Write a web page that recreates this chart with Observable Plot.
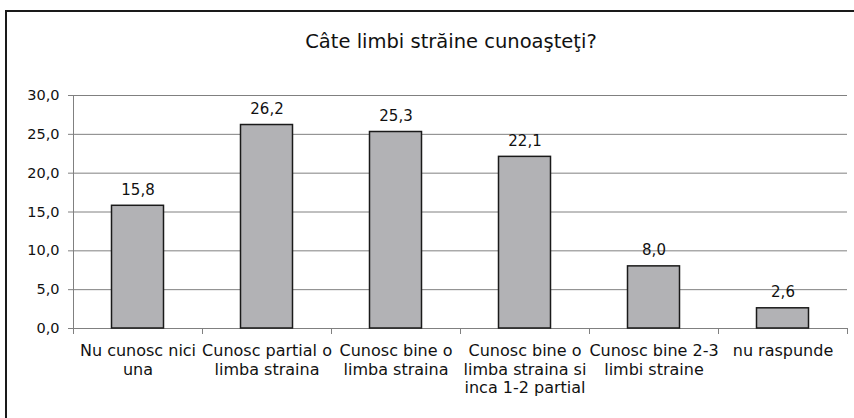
<!DOCTYPE html>
<html>
<head>
<meta charset="utf-8">
<script src="https://cdn.jsdelivr.net/npm/d3@7"></script>
<script src="https://cdn.jsdelivr.net/npm/@observablehq/plot@0.6"></script>
<style>
  html, body { margin: 0; padding: 0; background: #fff; overflow: hidden; }
  #wrap { position: relative; width: 854px; height: 418px; font-family: "DejaVu Sans", sans-serif; }
  #frame { position: absolute; left: 5px; top: 10px; width: 900px; height: 500px; border-left: 2px solid #1a1a1a; border-top: 2px solid #1a1a1a; box-sizing: border-box; pointer-events: none; }
  #title { position: absolute; left: 0; top: 30px; width: 902px; text-align: center; font-size: 19.5px; color: #111; line-height: 24px; }
  #chart { position: absolute; left: 0; top: 0; }
</style>
</head>
<body>
<div id="wrap">
  <div id="chart"></div>
  <div id="frame"></div>
  <div id="title">Câte limbi străine cunoaşteţi?</div>
</div>
<script>
const categories = [
  "Nu cunosc nici una",
  "Cunosc partial o limba straina",
  "Cunosc bine o limba straina",
  "Cunosc bine o limba straina si inca 1-2 partial",
  "Cunosc bine 2-3 limbi straine",
  "nu raspunde"
];
const tickLabels = [
  "Nu cunosc nici\nuna",
  "Cunosc partial o\nlimba straina",
  "Cunosc bine o\nlimba straina",
  "Cunosc bine o\nlimba straina si\ninca 1-2 partial",
  "Cunosc bine 2-3\nlimbi straine",
  "nu raspunde"
];
const values = [15.8, 26.2, 25.3, 22.1, 8.0, 2.6];
const yTicks = [0, 5, 10, 15, 20, 25, 30];

const data = categories.map((c, i) => ({category: c, value: values[i], label: tickLabels[i]}));
const fmt = v => d3.format(".1f")(v).replace(".", ",");

const W = 854, H = 418;
const mL = 73, mR = 7, mT = 95, mB = 90;
const step = (W - mL - mR) / categories.length;
const barW = 52;

const plot = Plot.plot({
  width: W,
  height: H,
  marginLeft: mL,
  marginRight: mR,
  marginTop: mT,
  marginBottom: mB,
  style: {fontFamily: '"DejaVu Sans", sans-serif', fontSize: "15px", color: "#111", background: "transparent"},
  x: {domain: categories, padding: 0, align: 0.5, label: null},
  y: {domain: [0, 30], label: null},
  marks: [
    Plot.gridY(yTicks, {stroke: "#808080", strokeOpacity: 1, strokeWidth: 1}),
    Plot.axisY(yTicks, {tickFormat: fmt, tickSize: 5, tickPadding: 9, stroke: "#808080", fontSize: 14.5, fill: "#111", label: null}),
    Plot.ruleX([categories[0]], {dx: -step / 2, y1: 0, y2: 30, stroke: "#808080"}),
    Plot.ruleY([0], {stroke: "#808080"}),
    Plot.axisX(categories, {tickSize: 6, tickFormat: () => "", dx: -step / 2, stroke: "#808080", label: null}),
    Plot.axisX([categories[categories.length - 1]], {tickSize: 6, tickFormat: () => "", dx: step / 2, stroke: "#808080", label: null}),
    Plot.axisX(categories, {tickSize: 0, tickPadding: 15, tickFormat: (d, i) => tickLabels[i], fontSize: 16, fill: "#111", lineHeight: 1.14, label: null}),
    Plot.barY(data, {x: "category", y: "value", fill: "#b2b2b5", stroke: "#1a1a1a", strokeWidth: 1.5, insetLeft: (step - barW) / 2, insetRight: (step - barW) / 2}),
    Plot.text(data, {x: "category", y: "value", text: d => fmt(d.value), lineAnchor: "bottom", dy: -11, fontSize: 15, fill: "#111"})
  ]
});
document.getElementById("chart").appendChild(plot);
</script>
</body>
</html>
